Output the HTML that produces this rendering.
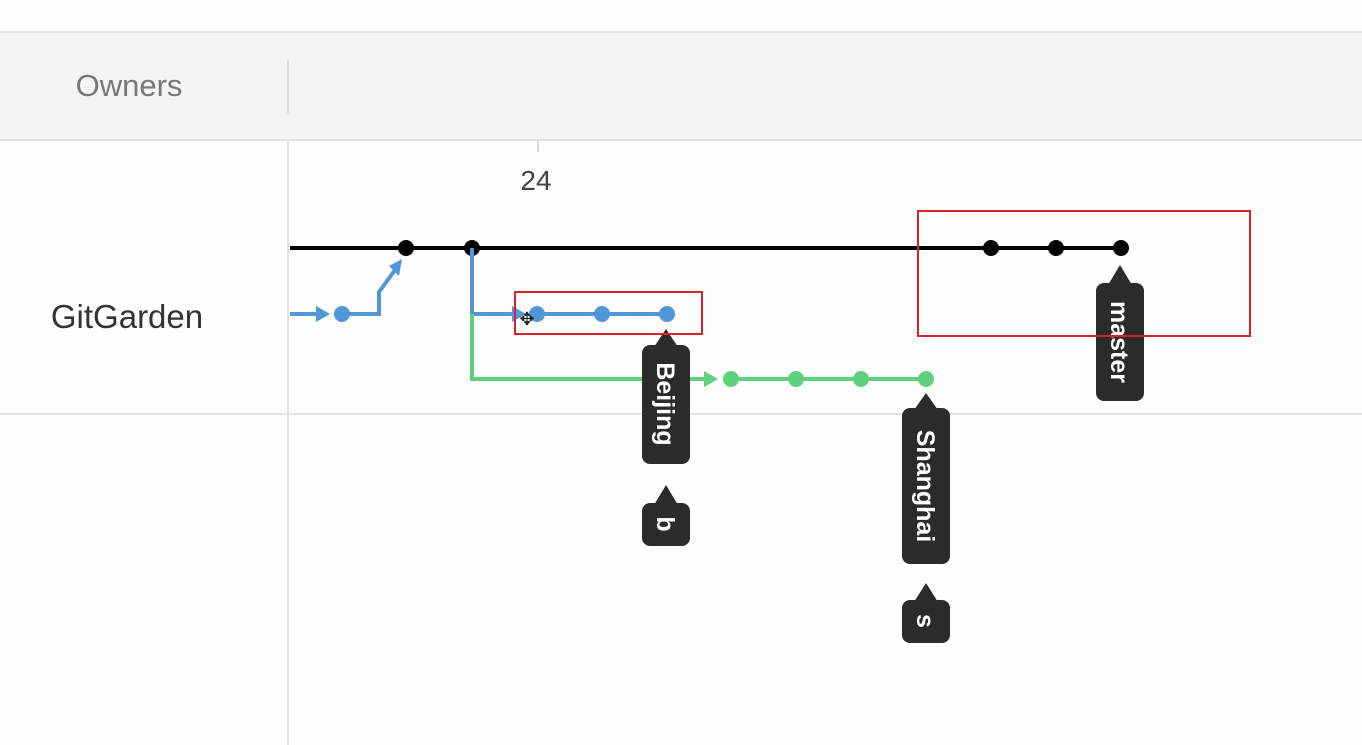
<!DOCTYPE html>
<html><head><style>
html,body{margin:0;padding:0;background:#fff;}
svg{display:block;font-family:"Liberation Sans",sans-serif;}
</style></head><body>
<svg width="1362" height="745" viewBox="0 0 1362 745">
<rect x="0" y="0" width="1362" height="745" fill="#fdfdfd"/>
<rect x="0" y="32" width="1362" height="108" fill="#f4f4f6"/>
<line x1="0" y1="32" x2="1362" y2="32" stroke="#e2e2e5" stroke-width="2"/>
<line x1="0" y1="140" x2="1362" y2="140" stroke="#e2e2e5" stroke-width="2"/>
<line x1="288" y1="60" x2="288" y2="113" stroke="#dcdcdf" stroke-width="2"/>
<line x1="288" y1="140" x2="288" y2="745" stroke="#e2e2e5" stroke-width="2"/>
<line x1="0" y1="414" x2="1362" y2="414" stroke="#e2e2e5" stroke-width="2"/>
<line x1="538" y1="140" x2="538" y2="152" stroke="#ccc" stroke-width="1.5"/>
<text x="129" y="96" font-size="31" fill="#777" text-anchor="middle">Owners</text>
<text x="127" y="328" font-size="33" fill="#333" text-anchor="middle">GitGarden</text>
<text x="536" y="190" font-size="28" fill="#444" text-anchor="middle">24</text>
<!-- master -->
<line x1="290" y1="248" x2="1121" y2="248" stroke="#000" stroke-width="4"/>
<g fill="#000"><circle cx="406" cy="248" r="8"/><circle cx="472" cy="248" r="8"/><circle cx="991" cy="248" r="8"/><circle cx="1056" cy="248" r="8"/><circle cx="1121" cy="248" r="8"/></g>
<!-- blue -->
<g stroke="#4f97d6" stroke-width="4" fill="none">
<line x1="290" y1="314" x2="318" y2="314"/>
<polyline points="342,314 379,314 379,292 395,270"/>
<polyline points="472,248 472,314 514,314"/>
<line x1="536" y1="314" x2="667" y2="314"/>
</g>
<g fill="#4f97d6">
<polygon points="316,306 330,314 316,322"/>
<polygon points="389,266 402,259 399,276"/>
<polygon points="512,306 526,314 512,322"/>
<circle cx="342" cy="314" r="8"/><circle cx="537" cy="314" r="8"/><circle cx="602" cy="314" r="8"/><circle cx="667" cy="314" r="8"/>
</g>
<!-- green -->
<g stroke="#5fd17a" stroke-width="4" fill="none">
<polyline points="472,314 472,379 706,379"/>
<line x1="730" y1="379" x2="926" y2="379"/>
</g>
<g fill="#5fd17a">
<polygon points="704,371 718,379 704,387"/>
<circle cx="731" cy="379" r="8"/><circle cx="796" cy="379" r="8"/><circle cx="861" cy="379" r="8"/><circle cx="926" cy="379" r="8"/>
</g>
<text x="527" y="325" font-size="18" fill="#222" text-anchor="middle">✥</text>
<!-- tags -->
<g fill="#2b2b2b">
<rect x="642" y="345" width="48" height="119" rx="8"/><polygon points="654,347 666,329 678,347"/>
<rect x="642" y="503" width="48" height="43" rx="8"/><polygon points="654,505 666,485 678,505"/>
<rect x="902" y="408" width="48" height="156" rx="8"/><polygon points="914,410 926,393 938,410"/>
<rect x="902" y="600" width="48" height="43" rx="8"/><polygon points="914,602 926,583 938,602"/>
<rect x="1096" y="283" width="48" height="118" rx="8"/><polygon points="1108,285 1120,265 1132,285"/>
</g>
<g fill="#fff" font-size="25" font-weight="bold" text-anchor="middle">
<text transform="translate(657,404) rotate(90)">Beijing</text>
<text transform="translate(657,524) rotate(90)">b</text>
<text transform="translate(917,486) rotate(90)">Shanghai</text>
<text transform="translate(917,621) rotate(90)">s</text>
<text transform="translate(1111,342) rotate(90)">master</text>
</g>
<!-- red boxes -->
<rect x="515" y="292" width="187" height="42" fill="none" stroke="#d9232a" stroke-width="2"/>
<rect x="918" y="211" width="332" height="125" fill="none" stroke="#d9232a" stroke-width="2"/>
</svg>
</body></html>
